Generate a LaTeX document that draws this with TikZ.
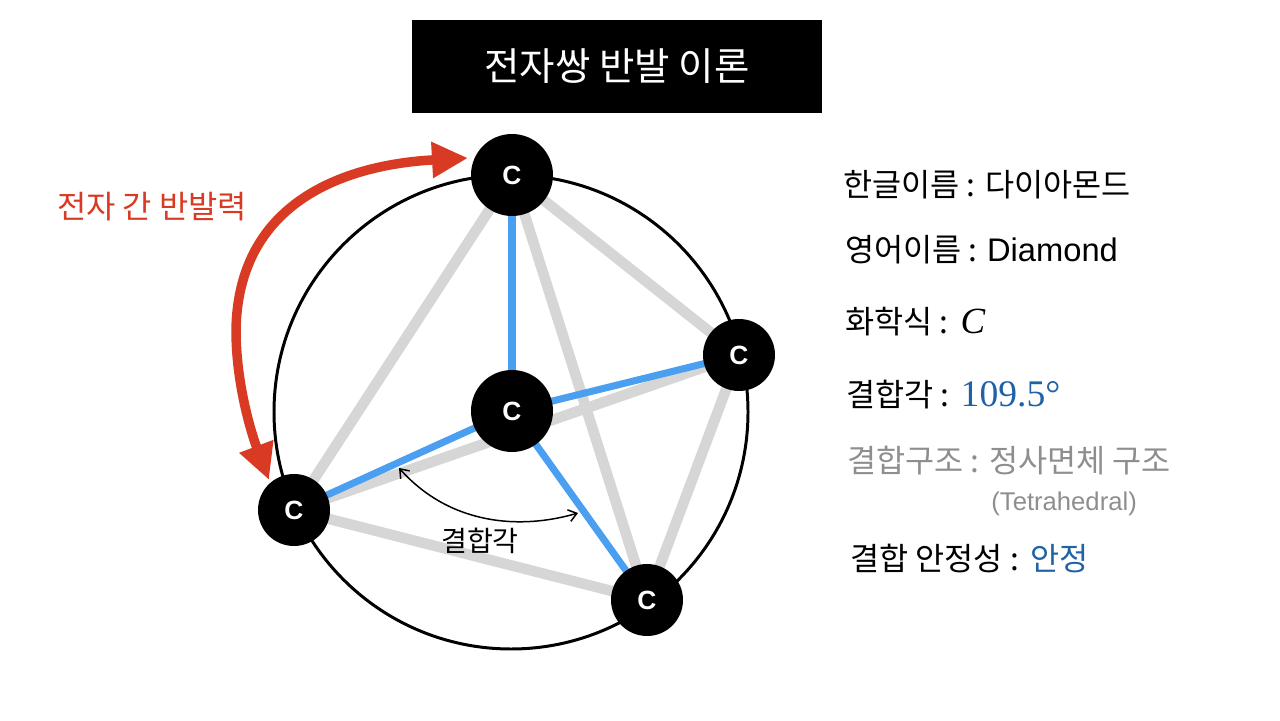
\documentclass[tikz,border=0pt]{standalone}
\usepackage{fontspec}
\setmainfont{Noto Sans CJK KR}
\newfontfamily\latinsans{Liberation Sans}
\newfontfamily\latinserif{Liberation Serif}
\usetikzlibrary{arrows.meta, positioning}
\definecolor{cblue}{HTML}{4A9FF0}
\definecolor{cdeep}{HTML}{1F62A6}
\definecolor{cred}{HTML}{D93A23}
\definecolor{cgrey}{HTML}{D6D6D6}
\definecolor{cnote}{HTML}{8E8E8E}
\tikzset{
  atom/.style={circle, fill=black, text=white, inner sep=0pt, minimum size=#1, font=\latinsans\bfseries\fontsize{15}{18}\selectfont},
  atom/.default=1.44cm,
  bond/.style={cblue, line width=4pt},
  edge/.style={cgrey, line width=6pt},
  repel/.style={{Triangle[length=7.2mm, width=6.8mm]}-{Triangle[length=7.2mm, width=6.8mm]}, cred, line width=5.4pt},
  angle/.style={{Straight Barb[length=1.6mm, width=2.4mm]}-{Straight Barb[length=1.6mm, width=2.4mm]}, black, line width=0.85pt},
  info/.style={anchor=base west, inner sep=0pt, font=\fontsize{18}{22}\selectfont},
}
\begin{document}
\begin{tikzpicture}
  \useasboundingbox (0,0) rectangle (25.6,14.4);
  % title
  \node[fill=black, text=white, minimum width=8.2cm, minimum height=1.86cm, font=\fontsize{21.9}{26}\selectfont] (title) at (12.34,13.07) {전자쌍 반발 이론};
  % tetrahedron
  \node[circle, draw=black, line width=1.7pt, minimum size=9.48cm, inner sep=0pt] (ring) at (10.22,6.16) {};
  \coordinate (ptop) at (10.24,10.90);
  \coordinate (pmid) at (10.24,6.18);
  \coordinate (pright) at (14.78,7.30);
  \coordinate (pleft) at (5.88,4.20);
  \coordinate (pbottom) at (12.94,2.40);
  \foreach \a/\b in {ptop/pleft, ptop/pbottom, ptop/pright, pleft/pright, pleft/pbottom, pright/pbottom}
    \draw[edge] (\a) -- (\b);
  \foreach \a in {ptop, pright, pleft, pbottom}
    \draw[bond] (pmid) -- (\a);
  \node[atom=1.64cm] (top) at (ptop) {C};
  \node[atom=1.64cm] (mid) at (pmid) {C};
  \node[atom] (right) at (pright) {C};
  \node[atom] (left) at (pleft) {C};
  \node[atom] (bottom) at (pbottom) {C};
  % repulsion
  \coordinate (rtop) at (9.36,11.24);
  \coordinate (rleft) at (5.38,4.80);
  \coordinate (rbend) at (4.72,7.80);
  \draw[repel] (rleft) .. controls (5.04,5.70) and (4.72,6.70) .. (rbend) .. controls (4.76,10.30) and (6.80,11.10) .. (rtop);
  \node[text=cred, font=\fontsize{18.1}{22}\selectfont] (force) at (3.04,10.26) {전자 간 반발력};
  % bond angle
  \coordinate (aleft) at (7.98,5.04);
  \coordinate (aright) at (11.56,4.14);
  \draw[angle] (aleft) .. controls (9.00,3.90) and (10.40,3.80) .. (aright);
  \node[font=\fontsize{16}{18}\selectfont] (anglelabel) at (9.60,3.58) {결합각};
  % properties
  \node[info] (korean) at (16.86,10.46) {한글이름 : 다이아몬드};
  \node[info] (english) at (16.90,9.16) {영어이름 : {\latinsans\fontsize{18.6}{22}\selectfont Diamond}};
  \node[info] (formula) at (16.90,7.72) {화학식 :\kern1.5pt{} {\latinserif\itshape\fontsize{21}{24}\selectfont C}};
  \node[info] (bondangle) at (16.92,6.26) {결합각 :\kern1pt{} {\latinserif\color{cdeep}\fontsize{21.4}{24}\selectfont 109.5°}};
  \node[info, text=cnote] (shape) at (16.94,4.94) {결합구조 : 정사면체 구조};
  \node[info, text=cnote, font=\latinsans\fontsize{14.6}{16}\selectfont] (shapeen) at (19.82,4.18) {(Tetrahedral)};
  \node[info] (stable) at (17.00,3.00) {결합 안정성 :\kern1pt{} {\color{cdeep}안정}};
\end{tikzpicture}
\end{document}
